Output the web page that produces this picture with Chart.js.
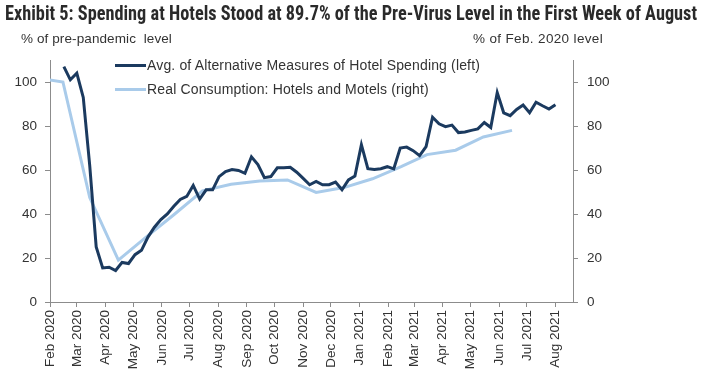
<!DOCTYPE html>
<html>
<head>
<meta charset="utf-8">
<script src="https://cdn.jsdelivr.net/npm/chart.js@4.4.1/dist/chart.umd.min.js"></script>
<style>
  html, body { margin: 0; padding: 0; background: #fff; }
  #wrap { position: relative; width: 705px; height: 378px; overflow: hidden; }
  #c { position: absolute; left: 0; top: 0; }
  .t { position: absolute; white-space: nowrap; color: #333; font-family: "Liberation Sans", Arial, sans-serif; }
  #title { left: 5px; top: 1px; font-family: "Liberation Sans Narrow", "Roboto Condensed", "Liberation Sans", sans-serif; font-weight: bold; font-size: 20px; color: #2a2a2a; transform-origin: 0 0; }
  #lunit { left: 21px; top: 31px; font-size: 13.5px; letter-spacing: 0.1px; }
  #runit { left: 473px; top: 31px; font-size: 13.5px; letter-spacing: 0.35px; }
  .lg { position: absolute; left: 115px; height: 0; }
  .lg .sw { position: absolute; left: 0; width: 31px; height: 3px; top: -1.5px; }
  .lg .tx { position: absolute; left: 32px; top: -8.5px; font-size: 14px; color: #333; font-family: "Liberation Sans", Arial, sans-serif; white-space: nowrap; letter-spacing: 0.15px; }
</style>
</head>
<body>
<div id="wrap">
  <canvas id="c" width="705" height="378"></canvas>
  <div id="title" class="t">Exhibit 5: Spending at Hotels Stood at 89.7% of the Pre-Virus Level in the First Week of August</div>
  <div id="lunit" class="t">% of pre-pandemic&nbsp; level</div>
  <div id="runit" class="t">% of Feb. 2020 level</div>
  <div class="lg" style="top:65px"><div class="sw" style="background:#1b3a5f"></div><div class="tx" id="lg1"></div></div>
  <div class="lg" style="top:89px"><div class="sw" style="background:#a9cbea"></div><div class="tx" id="lg2"></div></div>
</div>
<script>
// ---------- DATA ----------
const monthLabels = ["Feb 2020","Mar 2020","Apr 2020","May 2020","Jun 2020","Jul 2020","Aug 2020","Sep 2020","Oct 2020","Nov 2020","Dec 2020","Jan 2021","Feb 2021","Mar 2021","Apr 2021","May 2021","Jun 2021","Jul 2021","Aug 2021"];
const leftTicks = [0, 20, 40, 60, 80, 100];
const rightTicks = [0, 20, 40, 60, 80, 100];

const seriesNames = ["Avg. of Alternative Measures of Hotel Spending (left)", "Real Consumption: Hotels and Motels (right)"];

// weekly series, first week ending 2020-02-16
const spendingFirstWeek = "2020-02-16";
const spendingWeekly = [
  107, 101, 104, 93, 62, 25, 15.5, 15.8, 14.3, 18,
  17.5, 21.5, 23.5, 29.5, 34, 37.5, 40, 43.5, 46.6, 48,
  53, 46.8, 51, 51, 57, 59.3, 60.2, 59.8, 58.5, 66,
  62.5, 56.5, 57, 61, 61, 61.2, 59, 56.2, 53.3, 54.8,
  53.3, 53.3, 54.5, 51, 55.5, 57.2, 71.5, 60.6, 60.2, 60.6,
  61.5, 60.5, 70, 70.4, 68.8, 66.5, 70.6, 84, 81, 79.7,
  80.4, 77, 77.3, 78, 78.7, 81.6, 79.3, 95.2, 86, 84.7,
  87.5, 89.5, 86, 90.8, 89.2, 87.7, 89.7
];

// monthly series (plotted mid-month)
const consumptionMonths = ["2020-01","2020-02","2020-03","2020-04","2020-05","2020-06","2020-07","2020-08","2020-09","2020-10","2020-11","2020-12","2021-01","2021-02","2021-03","2021-04","2021-05","2021-06"];
const consumptionValues = [102, 100, 47.5, 19, 29.5, 40, 50.5, 53.5, 55, 55.5, 49.8, 52, 56, 61.5, 67, 69, 75, 78];

// ---------- helpers ----------
const DAY = 86400000;
const origin = Date.UTC(2020, 1, 1);
const dayOf = (y, m, d) => (Date.UTC(y, m, d) - origin) / DAY;
const monthStarts = monthLabels.map((_, i) => dayOf(2020, 1 + i, 1));
const xMax = dayOf(2021, 7, 20);

const sp0 = (() => { const [y, m, d] = spendingFirstWeek.split("-").map(Number); return dayOf(y, m - 1, d); })();
const spendingPts = spendingWeekly.map((v, i) => ({ x: sp0 + 7 * i, y: v }));
const consPts = consumptionMonths.map((s, i) => { const [y, m] = s.split("-").map(Number); return { x: dayOf(y, m - 1, 15), y: consumptionValues[i] }; });

document.getElementById("lg1").textContent = seriesNames[0];
document.getElementById("lg2").textContent = seriesNames[1];

// fit title width
const title = document.getElementById("title");
const tw = title.getBoundingClientRect().width;
title.style.transform = "scaleX(" + (692 / tw) + ")";

const FONT = { family: "'Liberation Sans', Arial, sans-serif", size: 13.5 };
const AXIS = "#8c8c8c";

new Chart(document.getElementById("c"), {
  type: "line",
  data: {
    datasets: [
      { label: seriesNames[0], data: spendingPts, yAxisID: "y", borderColor: "#1b3a5f", borderWidth: 3, pointRadius: 0, tension: 0, order: 1 },
      { label: seriesNames[1], data: consPts, yAxisID: "y1", borderColor: "#a9cbea", borderWidth: 3, pointRadius: 0, tension: 0, order: 2 }
    ]
  },
  options: {
    responsive: false,
    animation: false,
    devicePixelRatio: 1,
    layout: { padding: { top: 60, left: 0, right: 0, bottom: 0 } },
    plugins: { legend: { display: false }, tooltip: { enabled: false }, title: { display: false } },
    scales: {
      x: {
        type: "linear", min: 0, max: xMax,
        afterBuildTicks: (s) => { s.ticks = monthStarts.map(v => ({ value: v })); },
        afterFit: (s) => { s.height = 76; },
        ticks: { autoSkip: false, minRotation: 90, maxRotation: 90, padding: 3, color: "#333", font: FONT,
                 callback: (v, i) => monthLabels[i] },
        grid: { drawOnChartArea: false, drawTicks: true, tickLength: 5, color: AXIS, lineWidth: 1 },
        border: { display: true, color: AXIS, width: 1 }
      },
      y: {
        position: "left", min: 0, max: 110,
        afterBuildTicks: (s) => { s.ticks = leftTicks.map(v => ({ value: v })); },
        afterFit: (s) => { s.width = 50; },
        ticks: { padding: 8, color: "#333", font: FONT },
        grid: { drawOnChartArea: false, drawTicks: true, tickLength: 5, color: AXIS },
        border: { display: true, color: AXIS, width: 1 }
      },
      y1: {
        position: "right", min: 0, max: 110,
        afterBuildTicks: (s) => { s.ticks = rightTicks.map(v => ({ value: v })); },
        afterFit: (s) => { s.width = 132; },
        ticks: { padding: 9, color: "#333", font: FONT },
        grid: { drawOnChartArea: false, drawTicks: true, tickLength: 5, color: AXIS },
        border: { display: true, color: AXIS, width: 1 }
      }
    }
  }
});
</script>
</body>
</html>
